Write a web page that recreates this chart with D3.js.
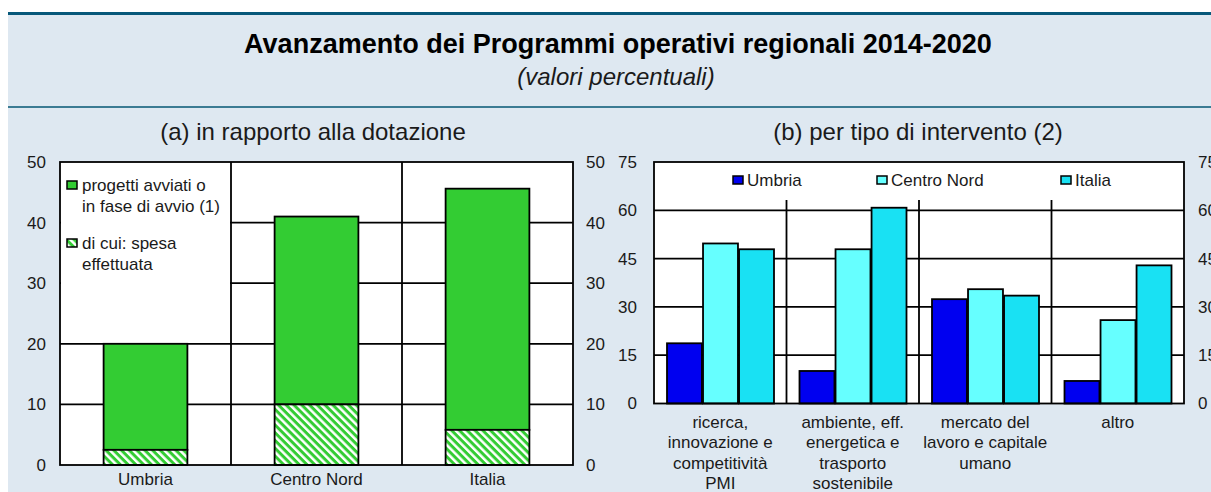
<!DOCTYPE html>
<html>
<head>
<meta charset="utf-8">
<script src="https://cdn.jsdelivr.net/npm/d3@7"></script>
<style>
  body { margin: 0; background: #fff; }
  svg { display: block; font-family: "Liberation Sans", Arial, sans-serif; }
  .tick text { fill: #1a1a1a; }
</style>
</head>
<body>
<svg id="chart" width="1211" height="492"></svg>
<script>
// panel (a): share of allocation
var catsA = ['Umbria', 'Centro Nord', 'Italia'],
    avviati = [20, 41, 45.6],
    spesa = [2.5, 10, 5.8],
    ticksA = [0, 10, 20, 30, 40, 50];

// panel (b): by type of intervention
var catsB = [
      ['ricerca,', 'innovazione e', 'competitività', 'PMI'],
      ['ambiente, eff.', 'energetica e', 'trasporto', 'sostenibile'],
      ['mercato del', 'lavoro e capitale', 'umano'],
      ['altro']
    ],
    seriesB = ['Umbria', 'Centro Nord', 'Italia'],
    umbriaB = [18.7, 10.1, 32.4, 7.0],
    centroNordB = [49.7, 47.9, 35.5, 25.9],
    italiaB = [47.9, 60.8, 33.5, 42.9],
    ticksB = [0, 15, 30, 45, 60, 75];

var colorsB = ['#0000f0', '#66ffff', '#19e1f3'],
    green = '#33cc33',
    ink = '#1a1a1a',
    lw = 1.8;

var svg = d3.select('#chart');

// hatch for "spesa effettuata"
var pat = svg.append('defs').append('pattern')
    .attr('id', 'hatch')
    .attr('patternUnits', 'userSpaceOnUse')
    .attr('width', 5.5).attr('height', 5.5)
    .attr('patternTransform', 'rotate(45)');
pat.append('rect').attr('width', 5.5).attr('height', 5.5).attr('fill', '#fff');
pat.append('rect').attr('width', 5.5).attr('height', 3).attr('fill', green);

// background + header
svg.append('rect').attr('x', 8).attr('y', 12).attr('width', 1203).attr('height', 480).attr('fill', '#dee8f1');
svg.append('rect').attr('x', 8).attr('y', 12).attr('width', 1203).attr('height', 3).attr('fill', '#07587a');
svg.append('rect').attr('x', 8).attr('y', 106).attr('width', 1203).attr('height', 2).attr('fill', '#3b7b93');

svg.append('text').attr('x', 618).attr('y', 53).attr('text-anchor', 'middle')
    .attr('font-size', 27).attr('font-weight', 'bold').attr('fill', '#000')
    .text('Avanzamento dei Programmi operativi regionali 2014-2020');
svg.append('text').attr('x', 616).attr('y', 85).attr('text-anchor', 'middle')
    .attr('font-size', 24).attr('font-style', 'italic').attr('fill', ink)
    .text('(valori percentuali)');

// ---------- panel (a) ----------
var ax = d3.scaleBand().domain(catsA).range([60, 573]).padding(0),
    ay = d3.scaleLinear().domain([0, 50]).range([465, 162]);

svg.append('text').attr('x', 313).attr('y', 140).attr('text-anchor', 'middle')
    .attr('font-size', 24).attr('fill', ink).text('(a) in rapporto alla dotazione');

var ga = svg.append('g');
ga.append('rect').attr('x', 60).attr('y', 162).attr('width', 513).attr('height', 303).attr('fill', '#fff');

ga.selectAll('.grid').data(ticksA.slice(1, -1)).join('line')
    .attr('x1', 60).attr('x2', 573)
    .attr('y1', d => ay(d)).attr('y2', d => ay(d))
    .attr('stroke', '#000').attr('stroke-width', lw);

// legend box hides the grid behind it
ga.append('rect').attr('x', 61).attr('y', 163).attr('width', ax.bandwidth() - 2).attr('height', 127).attr('fill', '#fff');

ga.selectAll('.sep').data(catsA.slice(1)).join('line')
    .attr('x1', d => ax(d)).attr('x2', d => ax(d))
    .attr('y1', 162).attr('y2', 465)
    .attr('stroke', '#000').attr('stroke-width', lw);

var bwA = ax.bandwidth() * 0.49;
ga.selectAll('.av').data(catsA).join('rect')
    .attr('x', d => ax(d) + (ax.bandwidth() - bwA) / 2)
    .attr('y', (d, i) => ay(avviati[i]))
    .attr('width', bwA)
    .attr('height', (d, i) => ay(spesa[i]) - ay(avviati[i]))
    .attr('fill', green).attr('stroke', '#000').attr('stroke-width', lw);
ga.selectAll('.sp').data(catsA).join('rect')
    .attr('x', d => ax(d) + (ax.bandwidth() - bwA) / 2)
    .attr('y', (d, i) => ay(spesa[i]))
    .attr('width', bwA)
    .attr('height', (d, i) => ay(0) - ay(spesa[i]))
    .attr('fill', 'url(#hatch)').attr('stroke', '#000').attr('stroke-width', lw);

ga.append('rect').attr('x', 60).attr('y', 162).attr('width', 513).attr('height', 303)
    .attr('fill', 'none').attr('stroke', '#000').attr('stroke-width', lw);

var axA = svg.append('g').attr('transform', 'translate(60,0)')
    .call(d3.axisLeft(ay).tickValues(ticksA).tickSize(0).tickPadding(14));
var axA2 = svg.append('g').attr('transform', 'translate(573,0)')
    .call(d3.axisRight(ay).tickValues(ticksA).tickSize(0).tickPadding(13));
[axA, axA2].forEach(g => {
    g.select('.domain').remove();
    g.selectAll('text').attr('font-size', 17).attr('font-family', null);
});

svg.append('g').selectAll('text').data(catsA).join('text')
    .attr('x', d => ax(d) + ax.bandwidth() / 2).attr('y', 485)
    .attr('text-anchor', 'middle').attr('font-size', 17).attr('fill', ink)
    .text(d => d);

// legend (a)
var legA = [
    { fill: green, lines: ['progetti avviati o', 'in fase di avvio (1)'], y: 191 },
    { fill: 'url(#hatch)', lines: ['di cui: spesa', 'effettuata'], y: 249 }
];
legA.forEach(l => {
    ga.append('rect').attr('x', 67).attr('y', l.y - 10).attr('width', 10).attr('height', 8)
        .attr('fill', l.fill).attr('stroke', '#000').attr('stroke-width', 1.5);
    ga.append('text').attr('x', 82).attr('y', l.y).attr('font-size', 17).attr('fill', ink)
        .selectAll('tspan').data(l.lines).join('tspan')
        .attr('x', 82).attr('dy', (d, i) => i ? 21 : 0).text(d => d);
});

// ---------- panel (b) ----------
var bx = d3.scaleBand().domain(d3.range(catsB.length)).range([654, 1184]).padding(0),
    bxi = d3.scaleBand().domain(seriesB).range([13, 120]).paddingInner(0.03),
    by = d3.scaleLinear().domain([0, 75]).range([403.5, 162]);
var valsB = [umbriaB, centroNordB, italiaB];

svg.append('text').attr('x', 918).attr('y', 140).attr('text-anchor', 'middle')
    .attr('font-size', 24).attr('fill', ink).text('(b) per tipo di intervento (2)');

var gb = svg.append('g');
gb.append('rect').attr('x', 654).attr('y', 162).attr('width', 530).attr('height', 241.5).attr('fill', '#fff');

gb.selectAll('.grid').data(ticksB.slice(1, -1)).join('line')
    .attr('x1', 654).attr('x2', 1184)
    .attr('y1', d => by(d)).attr('y2', d => by(d))
    .attr('stroke', '#000').attr('stroke-width', lw);

gb.selectAll('.sep').data(d3.range(1, catsB.length)).join('line')
    .attr('x1', d => bx(d)).attr('x2', d => bx(d))
    .attr('y1', 200).attr('y2', 403.5)
    .attr('stroke', '#000').attr('stroke-width', lw);

seriesB.forEach((s, k) => {
    gb.selectAll('.s' + k).data(valsB[k]).join('rect')
        .attr('x', (d, i) => bx(i) + bxi(s))
        .attr('y', d => by(d))
        .attr('width', bxi.bandwidth())
        .attr('height', d => by(0) - by(d))
        .attr('fill', colorsB[k]).attr('stroke', '#000').attr('stroke-width', lw);
});

gb.append('rect').attr('x', 654).attr('y', 162).attr('width', 530).attr('height', 241.5)
    .attr('fill', 'none').attr('stroke', '#000').attr('stroke-width', lw);

var axB = svg.append('g').attr('transform', 'translate(654,0)')
    .call(d3.axisLeft(by).tickValues(ticksB).tickSize(0).tickPadding(17));
var axB2 = svg.append('g').attr('transform', 'translate(1184,0)')
    .call(d3.axisRight(by).tickValues(ticksB).tickSize(0).tickPadding(14));
[axB, axB2].forEach(g => {
    g.select('.domain').remove();
    g.selectAll('text').attr('font-size', 17).attr('font-family', null);
});

svg.append('g').selectAll('text').data(catsB).join('text')
    .attr('y', 428).attr('text-anchor', 'middle').attr('font-size', 17).attr('fill', ink)
    .each(function (lines, i) {
        d3.select(this).selectAll('tspan').data(lines).join('tspan')
            .attr('x', bx(i) + bx.bandwidth() / 2)
            .attr('dy', (d, j) => j ? 20.3 : 0)
            .text(d => d);
    });

// legend (b)
var legX = [733, 877, 1061];
seriesB.forEach((s, k) => {
    gb.append('rect').attr('x', legX[k]).attr('y', 176).attr('width', 10).attr('height', 8)
        .attr('fill', colorsB[k]).attr('stroke', '#000').attr('stroke-width', 1.5);
    gb.append('text').attr('x', legX[k] + 14).attr('y', 186).attr('font-size', 17).attr('fill', ink).text(s);
});
</script>
</body>
</html>
